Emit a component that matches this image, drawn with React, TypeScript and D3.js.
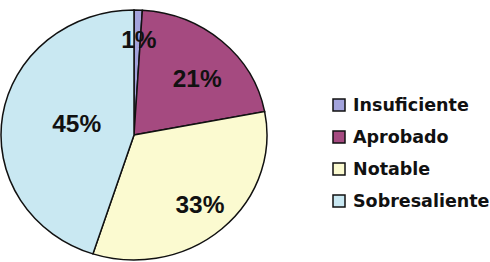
import React from "react";
import * as d3 from "d3";

const categories = ["Insuficiente", "Aprobado", "Notable", "Sobresaliente"];
const values = [1, 21, 33, 45];
const labels = ["1%", "21%", "33%", "45%"];

const colors = ["#a3a3dc", "#a54a80", "#fbfad0", "#c9e8f2"];
// label placement: radius share and angle nudge (degrees) per slice
const labelRadius = [0.76, 0.65, 0.75, 0.44];
const labelTurn = [1, 5.6, 0, 2.6];

const cx = 134;
const cy = 135;
const r = 125;
const sx = 1.064;

const App = () => {
  const pie = d3.pie<number>().sort(null).value(d => d);
  const arcs = pie(values);
  const arcGen = d3.arc<d3.PieArcDatum<number>>().innerRadius(0).outerRadius(r);

  return (
    <svg width={490} height={262} style={{ position: "absolute", left: 0, top: 0 }}>
      <rect width={490} height={262} fill="#fff" />
      <g transform={`translate(${cx},${cy}) scale(${sx},1)`}>
        {arcs.map((a, i) => (
          <path
            key={categories[i]}
            d={arcGen(a) || ""}
            fill={colors[i]}
            stroke="#111"
            strokeWidth={1.5}
            vectorEffect="non-scaling-stroke"
          />
        ))}
      </g>
      <g transform={`translate(${cx},${cy})`}>
        {arcs.map((a, i) => {
          const ang = (a.startAngle + a.endAngle) / 2 + (labelTurn[i] * Math.PI) / 180;
          const lr = r * labelRadius[i];
          const x = Math.sin(ang) * lr * sx;
          const y = -Math.cos(ang) * lr;
          return (
            <text
              key={categories[i]}
              transform={`translate(${x},${y}) scale(${sx},1)`}
              textAnchor="middle"
              dominantBaseline="central"
              fontFamily="Liberation Sans, Arial, sans-serif"
              fontWeight="bold"
              fontSize={23}
              fill="#111"
            >
              {labels[i]}
            </text>
          );
        })}
      </g>
      <g transform="translate(333,105)">
        {categories.map((c, i) => (
          <g key={c} transform={`translate(0,${i * 32})`}>
            <rect x={0} y={-6} width={12} height={12} fill={colors[i]} stroke="#111" strokeWidth={1.5} />
            <text
              x={20}
              y={0}
              dominantBaseline="central"
              fontFamily="DejaVu Sans, Verdana, sans-serif"
              fontWeight="bold"
              fontSize={17.5}
              fill="#111"
            >
              {c}
            </text>
          </g>
        ))}
      </g>
    </svg>
  );
};

export default App;
